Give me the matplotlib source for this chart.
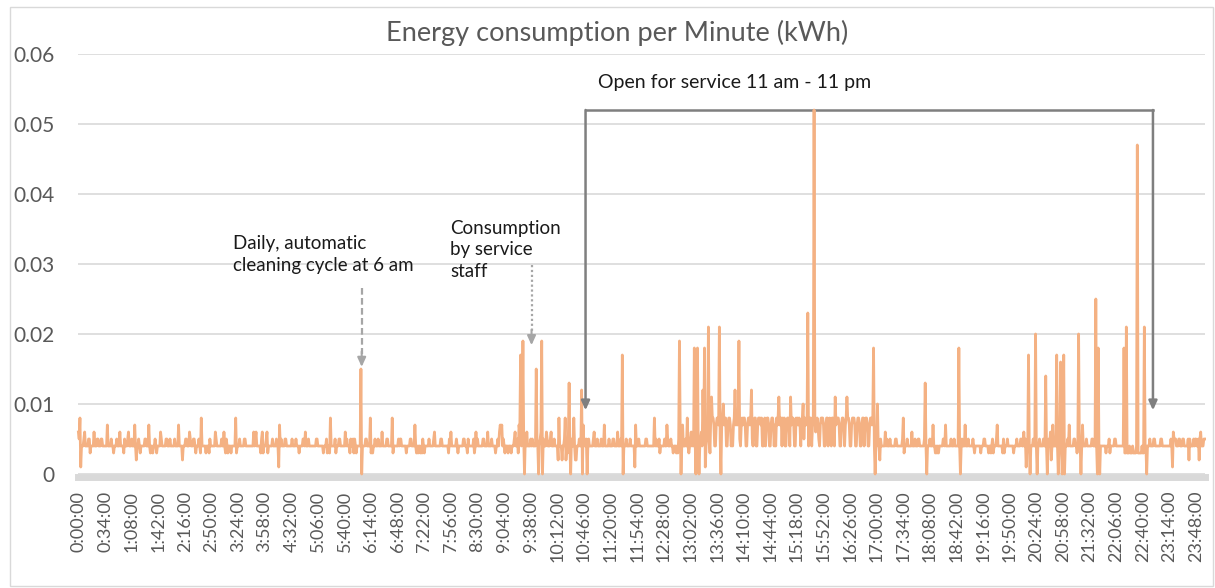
import numpy as np
import matplotlib
matplotlib.use("Agg")
import matplotlib.pyplot as plt
from matplotlib.patches import Rectangle

# energy per minute, one string per hour, each digit = 0.001 kWh
hour_digits = [
    "6581444564 4445534444 6444554445 5444444744 4454434445 4446444435",  # 0h
    "4445644454 4474244543 4444455444 7434434454 3444465444 4455444544",  # 1h
    "4445444474 4442444554 4465444554 3444543844 4443444354 4444465444",  # 2h
    "4445446435 4344434444 4834445444 4455444444 4444645644 4443563444",  # 3h
    "5634444454 4445441745 4444554444 4445444454 4434444554 6444544444",  # 4h
    "4444554444 4443444534 4384444453 4445544444 4645444354 4535434444",  # 5h
    "4404444554 4448343445 4445444464 4444554444 4834444445 4554444443",  # 6h
    "4444554444 7434344343 5434444454 4444564444 4445544444 4443546444",  # 7h
    "4445434444 4455444354 4444453464 5444444554 4446444454 4443445467",  # 8h
    "6745434443 4443444564 4537644645 0546444454 5444445404 5640544465",  # 9h
    "4445644454 4442844424 4582435440 5448422444 5444074545 0454444456",  # 10h
    "4445444454 4474444454 4445544446 4445440444 5444454444 4174445444",  # 11h
    "4444455444 4444448454 4453444445 4475444544 3444343546 0474445484",  # 12h
    "3456454450 5440456445 4145645384 8874478874 5078478844 7887454784",  # 13h
    "7878454787 8874478878 4547884478 8878447847 8874478874 7487847884",  # 14h
    "8784478874 4788744878 7874784587 8744788478 4867875478 8874478847",  # 15h
    "8748874478 8874478874 7848874478 8874478874 4788478874 4788784404",  # 16h
    "5444254444 4645444544 4444554444 4445834445 4444464445 4445544444",  # 17h
    "4544044454 4474434343 4444455474 4444454445 4444444045 4447444544",  # 18h
    "4445434444 4443444554 4443443453 4445744444 4353444544 4444434445",  # 19h
    "4444554464 5144440444 5444404454 4445444404 5462474444 4404544044",  # 20h
    "0444547444 4455443444 4047444454 4444455444 4404404444 4443444534",  # 21h
    "4444554444 4444444334 3334333433 3344333334 3344404445 4444554444",  # 22h
    "4445544444 4444445416 5554445544 4554444452 5444454554 4525644455",  # 23h
]

# peaks of 0.010 kWh and more: minute of day -> value in 0.001 kWh
peak_minutes = [361, 565, 568, 585, 592, 627, 643, 695, 768, 787, 791, 798,
                800, 805, 809, 819, 824, 839, 844, 860, 895, 910, 926, 932,
                940, 967, 982, 1016, 1021, 1082, 1125, 1214, 1223, 1236, 1250,
                1255, 1259, 1278, 1300, 1303, 1336, 1339, 1353, 1362]
peak_values = [15, 17, 19, 15, 19, 13, 12, 17, 19, 18, 18, 12,
               18, 21, 11, 21, 10, 12, 19, 12, 11, 11, 10, 23,
               52, 11, 11, 18, 10, 13, 18, 17, 20, 14, 17,
               16, 17, 20, 25, 18, 18, 21, 47, 21]

digits = "".join(h.replace(" ", "") for h in hour_digits)
energy = np.array([int(c) for c in digits], dtype=float)
energy[peak_minutes] = peak_values
energy = energy / 1000.0
assert len(energy) == 1440

time_labels = [f"{m // 60}:{m % 60:02d}:00" for m in range(1440)]
label_step = 34

plt.rcParams['font.family'] = ['Lato', 'DejaVu Sans']

W, H = 1215, 588
fig = plt.figure(figsize=(W / 100, H / 100), dpi=100)
ax = fig.add_axes([78 / W, (H - 474) / H, (1205 - 78) / W, 420 / H])

x = np.arange(len(energy))
ax.plot(x, energy, color='#F4B183', lw=2.0, solid_joinstyle='round',
        zorder=3, clip_on=False)

ax.set_xlim(-0.5, len(energy) - 0.5)
ax.set_ylim(0, 0.06)
ax.set_yticks(np.arange(0, 0.061, 0.01))
ax.set_yticklabels(['0', '0.01', '0.02', '0.03', '0.04', '0.05', '0.06'])
ax.set_xticks(x[::label_step])
ax.set_xticklabels(time_labels[::label_step])
ax.tick_params(axis='y', length=0, pad=17, labelsize=15, labelcolor='#595959')
ax.tick_params(axis='x', length=0, pad=10, labelsize=13, labelcolor='#595959',
               labelrotation=90)
ax.grid(axis='y', color='#D9D9D9', lw=1.2)
ax.set_axisbelow(True)
for s in ['left', 'right', 'top']:
    ax.spines[s].set_visible(False)
ax.spines['bottom'].set_color('#D9D9D9')
ax.spines['bottom'].set_linewidth(5)
ax.spines['bottom'].set_position(('outward', 2))

# title
fig.text(617 / W, 1 - 33 / H, 'Energy consumption per Minute (kWh)',
         ha='center', va='center', fontsize=19.5, color='#595959')

# annotations
dark = '#7F7F7F'
light = '#A6A6A6'
head = '-|>,head_length=0.55,head_width=0.25'

ax.text(198, 0.0313, 'Daily, automatic\ncleaning cycle at 6 am', ha='left',
        va='center', fontsize=13.5, linespacing=1.35, color='#1A1A1A')
ax.plot([362, 362], [0.0266, 0.0172], color=light, lw=1.6, ls=(0, (3, 1.5)))
ax.annotate('', xy=(362, 0.0153), xytext=(362, 0.0175),
            arrowprops=dict(arrowstyle=head, color=light, lw=1.5,
                            shrinkA=0, shrinkB=0))

ax.text(475, 0.0320, 'Consumption\nby service\nstaff', ha='left',
        va='center', fontsize=13.5, linespacing=1.35, color='#1A1A1A')
ax.plot([579, 579], [0.0299, 0.0203], color=light, lw=1.6, ls=(0, (1, 1.2)))
ax.annotate('', xy=(579, 0.0184), xytext=(579, 0.0206),
            arrowprops=dict(arrowstyle=head, color=light, lw=1.5,
                            shrinkA=0, shrinkB=0))

ax.text(839, 0.0559, 'Open for service 11 am - 11 pm', ha='center',
        va='center', fontsize=14, color='#1A1A1A')
ax.plot([648, 1373], [0.052, 0.052], color=dark, lw=1.8,
        solid_capstyle='projecting')
for xm in [648, 1373]:
    ax.annotate('', xy=(xm, 0.0091), xytext=(xm, 0.052),
                arrowprops=dict(arrowstyle=head, color=dark, lw=1.8,
                                shrinkA=0, shrinkB=0))

# chart border
fig.patches.append(Rectangle((10 / W, 2 / H), 1203 / W, 579 / H,
                             transform=fig.transFigure, fill=False,
                             edgecolor='#D9D9D9', lw=1))

fig.savefig('out.png', dpi=100)
